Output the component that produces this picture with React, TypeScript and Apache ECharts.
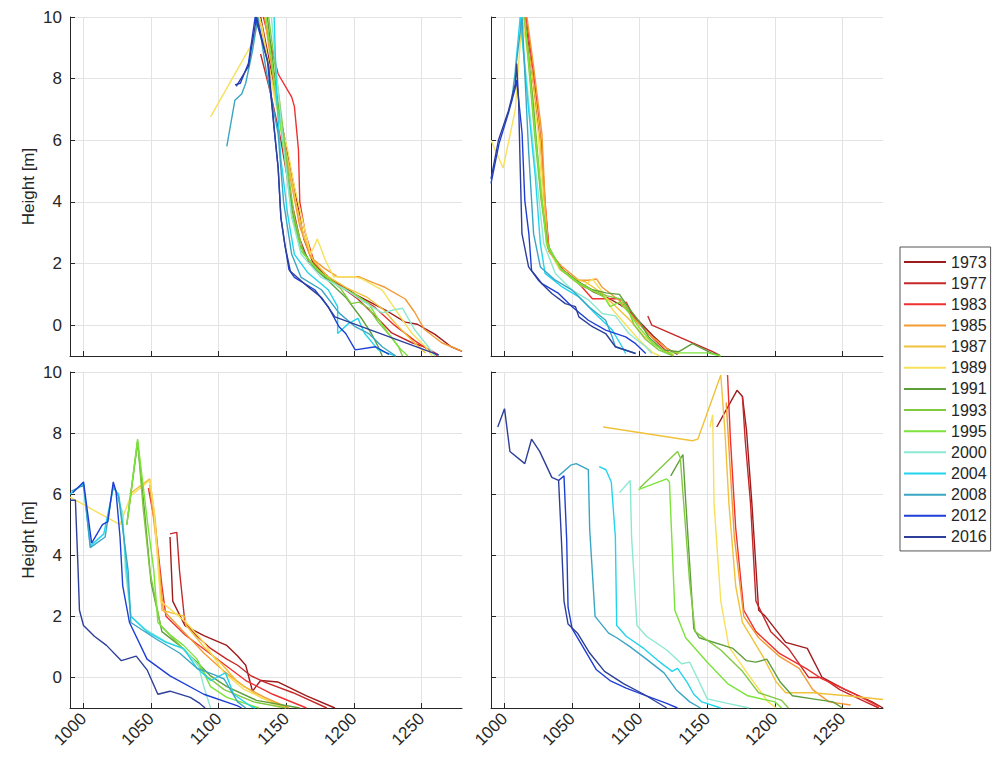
import React, { useEffect, useRef } from 'react';
import * as echarts from 'echarts';

const years = ['1973', '1977', '1983', '1985', '1987', '1989', '1991', '1993', '1995', '2000', '2004', '2008', '2012', '2016'];
const colors = ['#9e1b1b', '#c62828', '#ee3030', '#f39a33', '#f0c23a', '#f7e05a', '#5e9e3a', '#82c940', '#7be33a', '#8ce8d0', '#22d4ee', '#3aa6c4', '#1e3fd6', '#2d3f99'];
const xTicks = [1000, 1050, 1100, 1150, 1200, 1250];
const yTicks = [0, 2, 4, 6, 8, 10];

// top-left panel, one profile per year (same order as years)
const panelTopLeft = [
  [[1131, 10], [1140, 8.0], [1150, 5.8], [1158, 4.0], [1163, 2.8], [1170, 2.0], [1181, 1.55], [1194, 1.2], [1201, 1.0], [1223, 0.5], [1238, 0.1], [1247, 0.03], [1260, -0.3], [1272, -0.7], [1280, -0.85]],
  [[1131, 8.8], [1138, 7.6], [1146, 6.0], [1153, 4.2], [1160, 2.8], [1167, 2.0], [1180, 1.5], [1189, 1.3], [1203, 0.85], [1218, 0.2], [1228, -0.25], [1243, -0.57], [1252, -0.7], [1262, -0.95]],
  [[1133, 10], [1144, 8.15], [1154, 7.4], [1156, 7.1], [1159, 5.7], [1160, 4.0], [1164, 3.0], [1171, 2.0], [1185, 1.4], [1200, 1.0], [1215, 0.6], [1230, 0.0], [1245, -0.5], [1262, -1.0]],
  [[1134, 10], [1142, 7.5], [1152, 5.0], [1160, 3.2], [1168, 2.2], [1178, 1.85], [1188, 1.57], [1204, 1.57], [1216, 1.35], [1223, 1.23], [1238, 0.85], [1245, 0.42], [1252, -0.13], [1265, -0.57], [1280, -0.84]],
  [[1130, 10], [1140, 7.8], [1150, 5.6], [1157, 4.0], [1163, 2.9], [1170, 2.1], [1180, 1.6], [1195, 1.2], [1210, 0.9], [1222, 0.5], [1232, 0.0], [1243, -0.5], [1253, -0.9]],
  [[1094, 6.76], [1125.5, 9.2], [1130, 10], [1132, 9.7], [1142, 7.2], [1151, 5.7], [1156, 4.5], [1161, 3.6], [1168, 2.3], [1173, 2.8], [1179, 2.1], [1185, 1.57], [1201, 1.57], [1206, 1.5], [1221, 1.14], [1231, 0.49], [1243, -0.27], [1253, -0.7], [1258, -1.0]],
  [[1136, 10], [1143, 7.5], [1149, 5.5], [1154, 3.8], [1160, 2.6], [1170, 1.9], [1182, 1.4], [1194, 0.9], [1206, 0.2], [1213, -0.27], [1218, -0.7], [1221, -1.0]],
  [[1137, 10], [1145, 7.3], [1151, 5.1], [1156, 3.5], [1163, 2.3], [1176, 1.7], [1190, 1.2], [1198, 0.7], [1204, 0.75], [1211, 0.55], [1218, 0.1], [1226, -0.3], [1233, -0.7], [1236, -1.0]],
  [[1135, 10], [1142, 7.6], [1149, 5.4], [1154, 3.6], [1161, 2.4], [1174, 1.75], [1188, 1.3], [1201, 1.0], [1211, 0.7], [1218, 0.2], [1226, -0.3], [1235, -0.8], [1240, -1.0]],
  [[1139, 10], [1147, 6.2], [1154, 3.5], [1161, 2.3], [1176, 1.55], [1194, 1.15], [1206, 0.8], [1221, 0.4], [1230, 0.5], [1236, 0.55], [1245, -0.15], [1255, -0.7], [1260, -1.0]],
  [[1141, 10], [1143, 7.3], [1146, 5.4], [1151, 3.6], [1156, 2.3], [1166, 1.7], [1181, 1.15], [1188, 0.6], [1188, -0.27], [1196, 0.05], [1203, 0.22], [1208, -0.27], [1218, -0.8], [1231, -1.0]],
  [[1106, 5.8], [1112, 7.3], [1117, 7.5], [1120, 7.85], [1125, 8.9], [1129, 10], [1135, 8.3], [1144, 6.2], [1148, 4.0], [1154, 2.3], [1161, 1.55], [1176, 1.15], [1189, 0.4], [1201, -0.05], [1211, -0.27], [1221, -0.7], [1231, -1.0]],
  [[1112, 7.8], [1116, 7.85], [1122, 8.5], [1127, 10], [1136, 8.6], [1141, 6.4], [1144, 5.1], [1146, 3.5], [1149, 2.6], [1152, 1.8], [1156, 1.55], [1171, 1.15], [1181, 0.6], [1189, -0.05], [1194, -0.27], [1201, -0.8], [1216, -0.7], [1226, -0.95]],
  [[1113, 7.75], [1122, 8.4], [1128, 10], [1137, 8.4], [1141, 6.4], [1144, 5.1], [1146, 3.5], [1149, 2.6], [1153, 1.75], [1166, 1.25], [1176, 0.9], [1186, 0.27], [1263, -0.97]],
];

// top-right panel
const panelTopRight = [
  [[1015, 10], [1021, 8.0], [1027, 5.8], [1030, 3.8], [1033, 2.4], [1043, 1.8], [1055, 1.4], [1065, 1.1], [1078, 0.85], [1090, 0.55], [1100, 0.1], [1110, -0.35], [1120, -0.75], [1128, -0.95]],
  [[1106, 0.3], [1109, 0.0], [1129, -0.38], [1154, -0.86], [1159, -0.97]],
  [[1016, 10], [1022, 8.0], [1027, 6.0], [1030, 4.0], [1033, 2.4], [1043, 1.8], [1055, 1.35], [1065, 0.86], [1085, 0.86], [1087, 0.6], [1090, 0.75], [1097, 0.16], [1109, -0.38], [1119, -0.81], [1124, -0.97]],
  [[1016.6, 10], [1021.5, 8.4], [1027.7, 6.2], [1030, 4.0], [1032.7, 2.4], [1042.6, 1.9], [1055, 1.46], [1062, 1.46], [1068, 1.5], [1072, 1.24], [1085, 0.8], [1097, 0.16], [1109, -0.38], [1122, -0.81], [1129, -0.92]],
  [[1014, 10], [1020, 8.3], [1026, 6.3], [1029, 4.2], [1032, 2.5], [1041, 1.8], [1052, 1.5], [1060, 1.4], [1070, 1.1], [1080, 0.7], [1092, 0.2], [1103, -0.35], [1115, -0.75], [1125, -0.97]],
  [[990, 6.0], [999, 5.1], [1008, 7.0], [1013, 10], [1019, 8.2], [1025, 6.2], [1028, 4.2], [1031, 2.6], [1040, 1.9], [1050, 1.5], [1058, 1.25], [1065, 1.5], [1072, 1.1], [1080, 0.5], [1090, 0.0], [1100, -0.5], [1110, -0.9], [1115, -1.0]],
  [[1016, 9.5], [1022, 6.8], [1027, 4.2], [1032, 2.6], [1042, 1.8], [1055, 1.4], [1065, 1.15], [1075, 1.05], [1085, 1.0], [1092, 0.55], [1100, 0.1], [1107, -0.4], [1117, -0.8], [1129, -0.86], [1139, -0.6], [1154, -0.92], [1159, -0.97]],
  [[1015, 9.9], [1022, 6.3], [1027, 4.1], [1032, 2.5], [1043, 1.75], [1056, 1.3], [1066, 1.1], [1076, 0.95], [1086, 0.85], [1091, 0.55], [1096, 0.0], [1104, -0.45], [1114, -0.8], [1125, -1.0]],
  [[1015, 10], [1021, 7.0], [1026, 4.8], [1031, 2.7], [1041, 1.85], [1054, 1.4], [1064, 1.15], [1074, 0.9], [1078, 0.6], [1085, 0.75], [1092, 0.4], [1100, -0.1], [1110, -0.6], [1120, -0.9], [1150, -0.9], [1160, -1.0]],
  [[1011.6, 10], [1022.8, 5.14], [1029, 2.65], [1037.6, 1.68], [1050, 1.14], [1062.4, 0.81], [1072.3, 0.38], [1082, 0.3], [1092, -0.27], [1104.5, -0.7], [1109, -0.92]],
  [[1008, 8.3], [1011.6, 10], [1017.8, 7.0], [1022.8, 4.8], [1026.5, 2.65], [1030, 1.68], [1042.6, 1.24], [1055, 0.92], [1067, 0.38], [1079.7, -0.16], [1087, -0.7], [1089.6, -0.92]],
  [[1005, 7.2], [1013, 10], [1017.8, 5.68], [1021.5, 2.97], [1026.5, 1.89], [1037.6, 1.46], [1050, 1.14], [1062.4, 0.6], [1074.8, 0.16], [1079.7, -0.38], [1082, -0.7], [1097, -0.92]],
  [[990, 4.6], [996, 5.9], [1003, 6.9], [1008, 7.7], [1009, 7.95], [1013, 6.22], [1015, 4.05], [1018, 2.97], [1020, 1.78], [1027.7, 1.35], [1040, 1.03], [1050, 0.6], [1062, 0.16], [1074.8, -0.16], [1089.6, -0.38], [1097, -0.6], [1104.5, -0.92]],
  [[990, 4.75], [995.5, 6.0], [1003, 6.97], [1008, 7.84], [1009, 8.49], [1010.4, 7.3], [1011.6, 5.14], [1012.9, 2.97], [1017.8, 1.89], [1025, 1.46], [1035, 1.03], [1045, 0.7], [1052.5, 0.6], [1055, 0.27], [1065, -0.05], [1074.8, -0.27], [1082, -0.7], [1097, -0.92]],
];

// bottom-left panel
const panelBottomLeft = [
  [[1064, 4.6], [1066, 2.5], [1075, 1.7], [1089, 1.37], [1106, 1.05], [1114, 0.7], [1120, 0.4], [1125, -0.45], [1131, -0.1], [1144, -0.15], [1165, -0.6], [1186, -1.0]],
  [[1064, 4.7], [1069, 4.75], [1071, 3.5], [1075, 1.8], [1084, 1.35], [1094, 0.95], [1106, 0.6], [1114, 0.4], [1124, 0.05], [1134, -0.15], [1155, -0.5], [1180, -1.0]],
  [[1048, 6.2], [1053, 5.0], [1058, 3.0], [1061, 2.0], [1075, 1.4], [1090, 0.9], [1105, 0.4], [1120, -0.1], [1140, -0.55], [1165, -1.0]],
  [[1049, 6.3], [1051, 5.5], [1055, 4.0], [1059, 2.2], [1074, 1.5], [1089, 0.8], [1104, 0.2], [1119, -0.3], [1134, -0.65], [1152, -1.0]],
  [[1034, 6.0], [1049, 6.5], [1053, 5.2], [1058, 2.2], [1075, 2.0], [1076, 1.7], [1089, 1.0], [1101, 0.5], [1114, -0.15], [1131, -0.65], [1150, -1.0]],
  [[990, 5.9], [1027, 5.0], [1035, 5.95], [1049, 6.45], [1052, 5.5], [1057, 2.5], [1076, 1.8], [1089, 1.15], [1104, 0.15], [1119, -0.4], [1134, -0.7], [1145, -1.0]],
  [[1032, 5.0], [1040, 7.7], [1045, 5.5], [1050, 3.1], [1058, 1.5], [1071, 1.05], [1084, 0.5], [1094, 0.05], [1106, -0.3], [1128, -0.75], [1160, -1.0]],
  [[1033, 5.3], [1040, 7.75], [1044, 5.6], [1049, 3.5], [1057, 1.7], [1069, 1.15], [1081, 0.6], [1091, 0.05], [1104, -0.4], [1126, -0.8], [1150, -1.0]],
  [[1032, 5.0], [1040, 7.8], [1047, 5.2], [1052, 3.5], [1055, 1.8], [1064, 1.4], [1074, 1.05], [1084, 0.6], [1094, -0.3], [1106, -0.65], [1130, -1.0]],
  [[1025, 5.9], [1029, 5.4], [1031, 3.5], [1035, 2.0], [1045, 1.6], [1060, 1.2], [1075, 0.9], [1085, 0.4], [1089, -0.3], [1094, -1.0]],
  [[990, 6.0], [1000, 6.35], [1005, 4.3], [1015, 4.7], [1022, 6.2], [1026, 6.0], [1029, 5.0], [1032, 3.5], [1035, 2.0], [1047, 1.5], [1061, 1.15], [1074, 0.95], [1084, 0.3], [1094, -0.1], [1105, 0.15], [1111, -0.55], [1124, -0.95], [1127, -1.0]],
  [[991, 6.1], [1000, 6.3], [1005, 4.25], [1016, 4.6], [1022, 6.3], [1026, 5.9], [1033, 3.5], [1035, 1.8], [1054, 1.25], [1071, 0.8], [1084, 0.3], [1096, 0.1], [1104, -0.05], [1114, -0.8], [1120, -1.0]],
  [[992, 6.05], [1000, 6.4], [1006, 4.4], [1014, 5.0], [1018, 5.1], [1022, 6.4], [1024, 6.1], [1027, 4.6], [1029, 3.0], [1034, 1.8], [1047, 0.6], [1064, 0.05], [1089, -0.55], [1114, -0.93], [1117, -1.0]],
  [[990, 5.8], [994, 5.8], [996, 3.5], [997, 2.2], [1000, 1.7], [1008, 1.35], [1017, 1.05], [1028, 0.55], [1039, 0.7], [1047, 0.25], [1055, -0.55], [1064, -0.45], [1079, -0.65], [1086, -0.85], [1090, -1.0]],
];

// bottom-right panel
const panelBottomRight = [
  [[1157, 8.2], [1172, 9.4], [1176, 9.2], [1179, 8.1], [1183, 5.7], [1188, 2.2], [1193, 2.0], [1208, 1.15], [1224, 0.95], [1235, 0.0], [1252, -0.4], [1272, -0.8], [1280, -1.0]],
  [[1176, 9.2], [1178, 7.8], [1182, 5.7], [1186, 2.5], [1197, 1.5], [1210, 0.95], [1225, 0.0], [1235, 0.0], [1248, -0.4], [1267, -0.8], [1277, -1.0]],
  [[1165, 9.9], [1167, 7.9], [1171, 4.9], [1177, 2.2], [1186, 1.5], [1203, 0.8], [1223, 0.3], [1235, -0.05], [1257, -0.5], [1277, -0.95]],
  [[1164, 9.0], [1170, 4.6], [1177, 2.0], [1188, 1.3], [1203, 0.7], [1218, 0.3], [1228, -0.4], [1240, -0.8], [1256, -0.9]],
  [[1073, 8.2], [1139, 7.75], [1143, 7.8], [1160, 9.9], [1163, 8.1], [1166, 5.7], [1171, 3.0], [1176, 1.8], [1191, 0.7], [1201, -0.15], [1208, -0.5], [1228, -0.5], [1253, -0.6], [1280, -0.72]],
  [[1152, 8.2], [1154, 8.6], [1155, 5.7], [1160, 2.5], [1166, 1.0], [1181, 0.05], [1195, -0.8], [1201, -1.0]],
  [[1123, 6.6], [1132, 7.3], [1134, 5.8], [1140, 1.6], [1144, 1.3], [1169, 0.95], [1179, 0.55], [1186, 0.5], [1194, 0.6], [1204, -0.15], [1213, -0.6], [1228, -0.7], [1243, -0.8], [1250, -1.0]],
  [[1100, 6.2], [1128, 7.4], [1130, 7.2], [1137, 3.1], [1141, 1.5], [1160, 0.9], [1176, 0.2], [1188, -0.5], [1205, -0.75], [1210, -1.0]],
  [[1099, 6.15], [1120, 6.5], [1122, 6.4], [1126, 2.2], [1134, 1.3], [1150, 0.5], [1165, -0.2], [1180, -0.6], [1200, -0.8], [1205, -1.0]],
  [[1085, 6.05], [1093, 6.45], [1094, 4.6], [1098, 1.7], [1105, 1.35], [1120, 0.9], [1131, 0.45], [1137, 0.5], [1143, -0.05], [1150, -0.7], [1165, -0.85], [1181, -1.0]],
  [[1070, 6.9], [1075, 6.8], [1079, 6.4], [1082, 4.6], [1083, 1.7], [1090, 1.35], [1103, 0.95], [1115, 0.5], [1124, 0.2], [1128, 0.3], [1135, -0.15], [1140, -0.55], [1146, -0.8], [1160, -1.0]],
  [[1040, 6.6], [1049, 6.95], [1053, 7.0], [1062, 6.8], [1063, 4.85], [1067, 2.0], [1077, 1.45], [1083, 1.3], [1093, 1.0], [1105, 0.6], [1118, 0.15], [1127, -0.4], [1137, -0.8], [1145, -1.0]],
  [[1040, 6.45], [1044, 6.6], [1046, 4.5], [1047, 2.3], [1050, 1.6], [1058, 1.0], [1068, 0.25], [1078, -0.1], [1090, -0.35], [1105, -0.6], [1120, -0.85], [1128, -1.0]],
  [[995, 8.2], [1000, 8.8], [1004, 7.4], [1015, 7.0], [1020, 7.8], [1026, 7.4], [1035, 6.55], [1040, 6.45], [1042, 4.6], [1044, 2.5], [1047, 1.75], [1054, 1.45], [1063, 0.8], [1074, 0.2], [1088, -0.2], [1103, -0.55], [1120, -1.0]],
];

const panels = [panelTopLeft, panelTopRight, panelBottomLeft, panelBottomRight];

const FONT = '"Liberation Sans", Arial, Helvetica, sans-serif';
const AXIS_COLOR = '#262626';
const GRID_COLOR = '#e3e3e3';

export default function App() {
  const ref = useRef<HTMLDivElement>(null);

  useEffect(() => {
    if (!ref.current) return;
    const chart = echarts.init(ref.current, undefined, { renderer: 'svg' });

    const grids = [
      { left: 70, top: 17, width: 392, height: 339 },
      { left: 491, top: 17, width: 392, height: 339 },
      { left: 70, top: 372, width: 392, height: 336 },
      { left: 491, top: 372, width: 392, height: 336 },
    ];

    const xAxes = grids.map((_, i) => ({
      type: 'value',
      gridIndex: i,
      min: 990,
      max: 1280,
      axisLine: { show: true, onZero: false, lineStyle: { color: AXIS_COLOR, width: 1 } },
      axisTick: { show: true, inside: true, length: 5, customValues: xTicks, lineStyle: { color: AXIS_COLOR } },
      axisLabel: {
        show: i >= 2,
        customValues: xTicks,
        formatter: (v: number) => String(v),
        rotate: 45,
        margin: 8,
        fontSize: 17,
        color: AXIS_COLOR,
        fontFamily: FONT,
      },
      splitLine: { show: true, lineStyle: { color: GRID_COLOR, width: 1 } },
    }));

    const yAxes = grids.map((_, i) => ({
      type: 'value',
      gridIndex: i,
      min: -1,
      max: 10,
      name: i % 2 === 0 ? 'Height [m]' : '',
      nameLocation: 'middle',
      nameGap: 33,
      nameTextStyle: { fontSize: 17, color: AXIS_COLOR, fontFamily: FONT },
      axisLine: { show: true, onZero: false, lineStyle: { color: AXIS_COLOR, width: 1 } },
      axisTick: { show: true, inside: true, length: 5, customValues: yTicks, lineStyle: { color: AXIS_COLOR } },
      axisLabel: {
        show: i % 2 === 0,
        customValues: yTicks,
        formatter: (v: number) => String(v),
        margin: 8,
        fontSize: 17,
        color: AXIS_COLOR,
        fontFamily: FONT,
      },
      splitLine: { show: true, lineStyle: { color: GRID_COLOR, width: 1 } },
    }));

    const series: any[] = [];
    panels.forEach((panel, p) => {
      panel.forEach((pts, k) => {
        series.push({
          type: 'line',
          name: years[k],
          xAxisIndex: p,
          yAxisIndex: p,
          data: pts,
          symbol: 'none',
          showSymbol: false,
          clip: true,
          lineStyle: { color: colors[k], width: 1.4 },
          itemStyle: { color: colors[k] },
        });
      });
    });

    chart.setOption({
      animation: false,
      backgroundColor: '#ffffff',
      grid: grids,
      xAxis: xAxes,
      yAxis: yAxes,
      legend: {
        data: years,
        orient: 'vertical',
        left: 900,
        top: 247,
        itemWidth: 42,
        itemHeight: 16,
        itemGap: 5.15,
        padding: [7, 4, 6, 3],
        borderColor: '#555555',
        borderWidth: 1,
        backgroundColor: '#ffffff',
        itemStyle: { opacity: 0 },
        lineStyle: { width: 2 },
        textStyle: { fontSize: 16, color: AXIS_COLOR, fontFamily: FONT },
      },
      series,
    });

    return () => chart.dispose();
  }, []);

  return (
    <div
      ref={ref}
      style={{ position: 'fixed', left: 0, top: 0, width: 995, height: 759, background: '#fff' }}
    />
  );
}
